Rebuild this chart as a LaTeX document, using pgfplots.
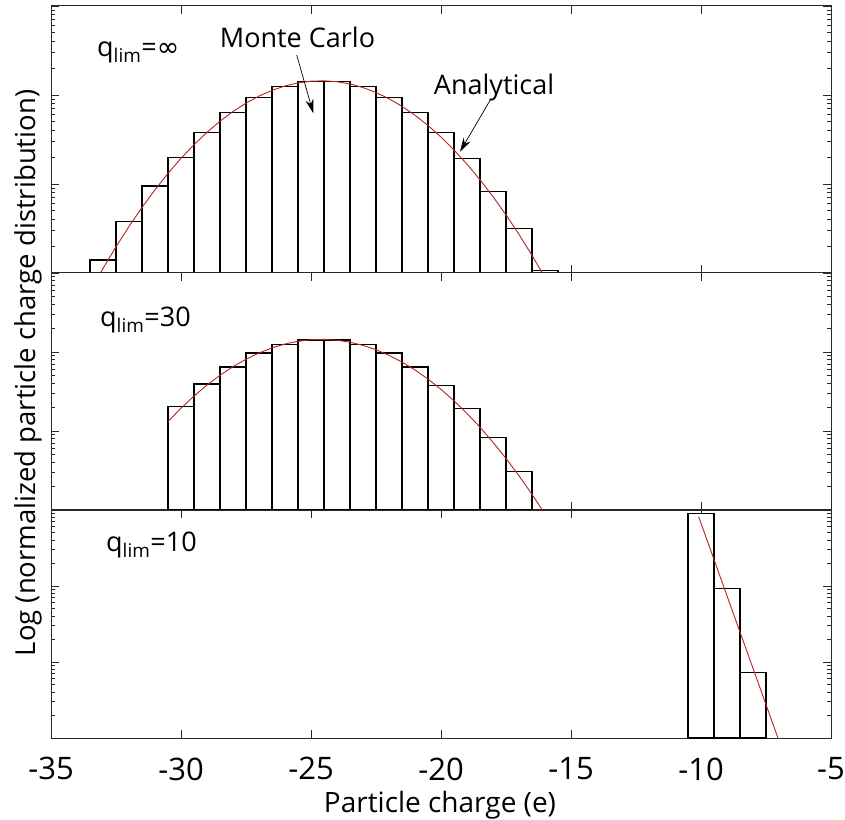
\documentclass[border=0pt]{standalone}
\usepackage{fontspec}
\setmainfont{Open Sans}
\newfontfamily\dejavu{DejaVu Sans}
\usepackage{pgfplots}
\pgfplotsset{compat=1.18}
\usetikzlibrary{arrows.meta}
\definecolor{analytic}{RGB}{185,35,35}
\definecolor{axisgray}{RGB}{40,40,40}

\pgfplotstableread{
x y
-33 1.40e-3
-32 3.77e-3
-31 9.5e-3
-30 0.0200
-29 0.0381
-28 0.0640
-27 0.0940
-26 0.126
-25 0.1426
-24 0.1426
-23 0.126
-22 0.0940
-21 0.0640
-20 0.0381
-19 0.0194
-18 8.3e-3
-17 3.18e-3
-16 1.06e-3
}\mcinf

\pgfplotstableread{
x y
-30 0.0203
-29 0.0394
-28 0.0646
-27 0.0970
-26 0.126
-25 0.142
-24 0.142
-23 0.126
-22 0.0970
-21 0.0646
-20 0.0378
-19 0.0194
-18 8.2e-3
-17 3.06e-3
}\mcthirty

\pgfplotstableread{
x y
-10 0.906
-9 0.0915
-8 7.31e-3
}\mcten

\pgfplotstableread{
x y
-33.5 6.19e-4
-33.0 1.123e-3
-32.5 1.968e-3
-32.0 3.333e-3
-31.5 5.454e-3
-31.0 8.62e-3
-30.5 1.316e-2
-30.0 1.942e-2
-29.5 2.768e-2
-29.0 3.813e-2
-28.5 5.073e-2
-28.0 6.523e-2
-27.5 8.102e-2
-27.0 9.723e-2
-26.5 0.1127
-26.0 0.1263
-25.5 0.1367
-25.0 0.1429
-24.5 0.1444
-24.0 0.1410
-23.5 0.1330
-23.0 0.1212
-22.5 0.1067
-22.0 9.075e-2
-21.5 7.458e-2
-21.0 5.923e-2
-20.5 4.545e-2
-20.0 3.369e-2
-19.5 2.412e-2
-19.0 1.669e-2
-18.5 1.116e-2
-18.0 7.206e-3
-17.5 4.496e-3
-17.0 2.711e-3
-16.5 1.579e-3
-16.0 8.89e-4
}\aninf

\pgfplotstableread{
x y
-30.5 1.316e-2
-30.0 1.942e-2
-29.5 2.768e-2
-29.0 3.813e-2
-28.5 5.073e-2
-28.0 6.523e-2
-27.5 8.102e-2
-27.0 9.723e-2
-26.5 0.1127
-26.0 0.1263
-25.5 0.1367
-25.0 0.1429
-24.5 0.1444
-24.0 0.1410
-23.5 0.1330
-23.0 0.1212
-22.5 0.1067
-22.0 9.075e-2
-21.5 7.458e-2
-21.0 5.923e-2
-20.5 4.545e-2
-20.0 3.369e-2
-19.5 2.412e-2
-19.0 1.669e-2
-18.5 1.116e-2
-18.0 7.206e-3
-17.5 4.496e-3
-17.0 2.711e-3
-16.5 1.579e-3
-16.0 8.89e-4
}\anthirty

\pgfplotstableread{
x y
-10.09 0.816
-7.0 9.16e-4
}\anten

\pgfplotsset{
  panel/.style={
    scale only axis, width=780bp, anchor=south west,
    xmin=-35, xmax=-5, ymin=1e-3, ymax=1,
    log origin=infty,
    xtick={-35,-30,-25,-20,-15,-10,-5},
    xticklabels={}, yticklabels={},
    tick align=inside,
    major tick length=8bp, minor tick length=4bp,
    every tick/.style={axisgray, line width=0.8bp},
    axis line style={axisgray, line width=1bp},
    every x tick label/.append style={font=\fontsize{31bp}{34bp}\selectfont, yshift=-16bp},
  },
  mcbar/.style={ybar, bar width=1, fill=white, draw=black, line width=1.1bp},
  anline/.style={analytic, line width=0.9bp, no markers},
}

\begin{document}
\begin{tikzpicture}
\path[use as bounding box] (0bp,0bp) rectangle (845bp,820bp);

% panel 1
\begin{semilogyaxis}[panel, at={(51bp,547bp)}, height=267bp]
\addplot[mcbar] table[x=x,y=y]{\mcinf};
\addplot[anline] table[x=x,y=y]{\aninf};
\end{semilogyaxis}

% panel 2
\begin{semilogyaxis}[panel, at={(51bp,310bp)}, height=237bp]
\addplot[mcbar] table[x=x,y=y]{\mcthirty};
\addplot[anline] table[x=x,y=y]{\anthirty};
\end{semilogyaxis}

% panel 3
\begin{semilogyaxis}[panel, at={(51bp,82bp)}, height=228bp,
  xticklabels={-35,-30,-25,-20,-15,-10,-5}]
\addplot[mcbar] table[x=x,y=y]{\mcten};
\addplot[anline] table[x=x,y=y]{\anten};
\end{semilogyaxis}

% x label
\node[anchor=base, font=\fontsize{28bp}{30bp}\selectfont, inner sep=0pt] at (440bp,8bp)
  {Particle charge (e)};

% y label
\node[rotate=90, anchor=base, font=\fontsize{27.5bp}{30bp}\selectfont, inner sep=0pt] at (35bp,447bp)
  {Log (normalized particle charge distribution)};

% panel labels
\node[anchor=base west, font=\fontsize{27bp}{30bp}\selectfont, inner sep=0pt] at (97bp,763bp)
  {q\textsubscript{lim}={\dejavu ∞}};
\node[anchor=base west, font=\fontsize{27bp}{30bp}\selectfont, inner sep=0pt] at (100bp,493bp)
  {q\textsubscript{lim}=30};
\node[anchor=base west, font=\fontsize{27bp}{30bp}\selectfont, inner sep=0pt] at (106bp,268bp)
  {q\textsubscript{lim}=10};

% annotations
\node[anchor=base, font=\fontsize{27bp}{30bp}\selectfont, inner sep=0pt] at (297.5bp,772bp) {Monte Carlo};
\draw[-{Stealth[length=14bp,width=8bp]}, line width=0.7bp] (296.7bp,765bp) -- (313.3bp,706.7bp);
\node[anchor=base, font=\fontsize{27bp}{30bp}\selectfont, inner sep=0pt] at (494bp,725bp) {Analytical};
\draw[-{Stealth[length=14bp,width=8bp]}, line width=0.7bp] (490.7bp,720.7bp) -- (460bp,668.3bp);
\end{tikzpicture}
\end{document}
